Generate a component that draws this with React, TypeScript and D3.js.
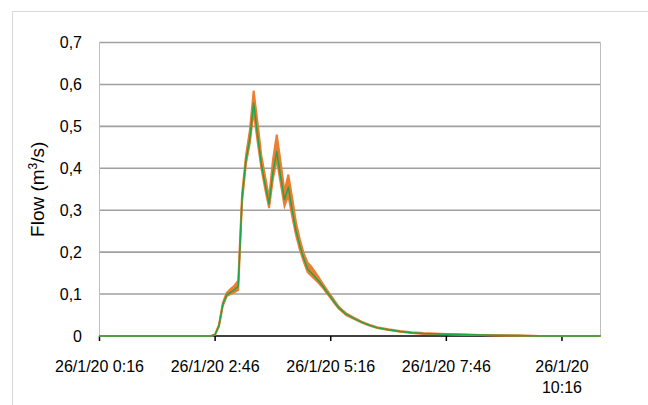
import React from "react";
import * as d3 from "d3";

// minutes after 26/1/20 0:16
const timeMin = [0, 60, 120, 145, 150, 155, 160, 165, 170, 175, 180, 185, 190, 195, 200, 205, 210, 215, 220, 225, 230, 235, 240, 245, 250, 255, 260, 265, 270, 275, 280, 285, 290, 295, 300, 305, 310, 315, 320, 330, 340, 350, 360, 375, 390, 405, 420, 450, 480, 510, 540, 570, 610, 650];
const median = [0, 0, 0, 0, 0.003, 0.025, 0.075, 0.098, 0.104, 0.11, 0.118, 0.33, 0.42, 0.47, 0.555, 0.48, 0.41, 0.36, 0.315, 0.39, 0.44, 0.38, 0.325, 0.355, 0.3, 0.25, 0.215, 0.185, 0.16, 0.15, 0.14, 0.13, 0.118, 0.105, 0.093, 0.08, 0.068, 0.06, 0.052, 0.042, 0.033, 0.026, 0.02, 0.015, 0.011, 0.008, 0.006, 0.004, 0.003, 0.002, 0.001, 0, 0, 0];
const lower = [0, 0, 0, 0, 0.003, 0.023, 0.072, 0.095, 0.1, 0.104, 0.11, 0.32, 0.41, 0.46, 0.535, 0.465, 0.4, 0.35, 0.305, 0.375, 0.42, 0.365, 0.31, 0.335, 0.285, 0.24, 0.205, 0.177, 0.152, 0.143, 0.134, 0.125, 0.114, 0.102, 0.09, 0.078, 0.066, 0.058, 0.05, 0.041, 0.032, 0.025, 0.019, 0.014, 0.01, 0.007, 0.005, 0.004, 0.003, 0.002, 0.001, 0, 0, 0];
const upper = [0, 0, 0, 0, 0.004, 0.027, 0.079, 0.103, 0.112, 0.12, 0.132, 0.34, 0.43, 0.49, 0.585, 0.51, 0.43, 0.38, 0.33, 0.42, 0.48, 0.415, 0.345, 0.385, 0.33, 0.27, 0.23, 0.197, 0.175, 0.165, 0.152, 0.138, 0.124, 0.11, 0.097, 0.084, 0.071, 0.062, 0.054, 0.044, 0.034, 0.027, 0.021, 0.016, 0.012, 0.009, 0.007, 0.005, 0.003, 0.002, 0.001, 0, 0, 0];

const yTicks = [0, 0.1, 0.2, 0.3, 0.4, 0.5, 0.6, 0.7];
const xTicks = [0, 150, 300, 450, 600];
const xTickLabels = [["26/1/20 0:16"], ["26/1/20 2:46"], ["26/1/20 5:16"], ["26/1/20 7:46"], ["26/1/20", "10:16"]];

const FONT = "'Liberation Sans', Arial, sans-serif";

export default function App() {
  const W = 648, H = 405;
  const left = 99.5, right = 600.5, top = 42.5, bottom = 336;
  const x = d3.scaleLinear().domain([0, 650]).range([left, right]);
  const y = d3.scaleLinear().domain([0, 0.7]).range([bottom, top]);

  const idx = d3.range(timeMin.length);
  const band = d3.area<number>()
    .x((i) => x(timeMin[i]))
    .y0((i) => y(lower[i]))
    .y1((i) => y(upper[i]))(idx) as string;
  const upLine = d3.line<number>().x((i) => x(timeMin[i])).y((i) => y(upper[i]))(idx) as string;
  const loLine = d3.line<number>().x((i) => x(timeMin[i])).y((i) => y(lower[i]))(idx) as string;
  const medLine = d3.line<number>().x((i) => x(timeMin[i])).y((i) => y(median[i]))(idx) as string;

  const fmtY = (v: number) => (v === 0 ? "0" : d3.format(".1f")(v).replace(".", ","));

  return (
    <svg width={W} height={H} style={{ position: "absolute", left: 0, top: 0, background: "#fff" }} fontFamily={FONT}>
      <rect x={12.5} y={11.5} width={660} height={420} fill="#fff" stroke="#d9d9d9" strokeWidth={1} />
      {yTicks.map((t) =>
        t === 0 ? null : (
          <line key={"g" + t} x1={left} x2={right} y1={y(t)} y2={y(t)} stroke="#a0a0a0" strokeWidth={1.6} />
        )
      )}
      <line x1={left} x2={left} y1={top} y2={bottom} stroke="#bfbfbf" strokeWidth={1} />
      <line x1={right} x2={right} y1={top} y2={bottom} stroke="#bfbfbf" strokeWidth={1} />
      {yTicks.map((t) => (
        <text key={"yl" + t} x={82} y={y(t)} dy="0.35em" textAnchor="end" fontSize={16} fill="#000">
          {fmtY(t)}
        </text>
      ))}
      <line x1={left} x2={right} y1={bottom} y2={bottom} stroke="#000" strokeWidth={1.5} />
      {xTicks.map((t, i) => (
        <g key={"xt" + t}>
          <line x1={x(t)} x2={x(t)} y1={bottom} y2={bottom + 5} stroke="#000" strokeWidth={1.5} />
          {xTickLabels[i].map((s, j) => (
            <text key={j} x={x(t)} y={371.5 + j * 21.5} textAnchor="middle" fontSize={16} fill="#000">
              {s}
            </text>
          ))}
        </g>
      ))}
      <path d={band} fill="#ED7D31" stroke="none" />
      <path d={upLine} fill="none" stroke="#ED7D31" strokeWidth={2} />
      <path d={loLine} fill="none" stroke="#ED7D31" strokeWidth={2} />
      <path d={medLine} fill="none" stroke="#1FA64A" strokeWidth={1.5} strokeLinejoin="round" />
      <text transform={`translate(44, ${(top + bottom) / 2}) rotate(-90)`} textAnchor="middle" fontSize={19} fill="#000">
        Flow (m<tspan fontSize={12} dy={-7}>3</tspan><tspan dy={7}>/s)</tspan>
      </text>
    </svg>
  );
}
